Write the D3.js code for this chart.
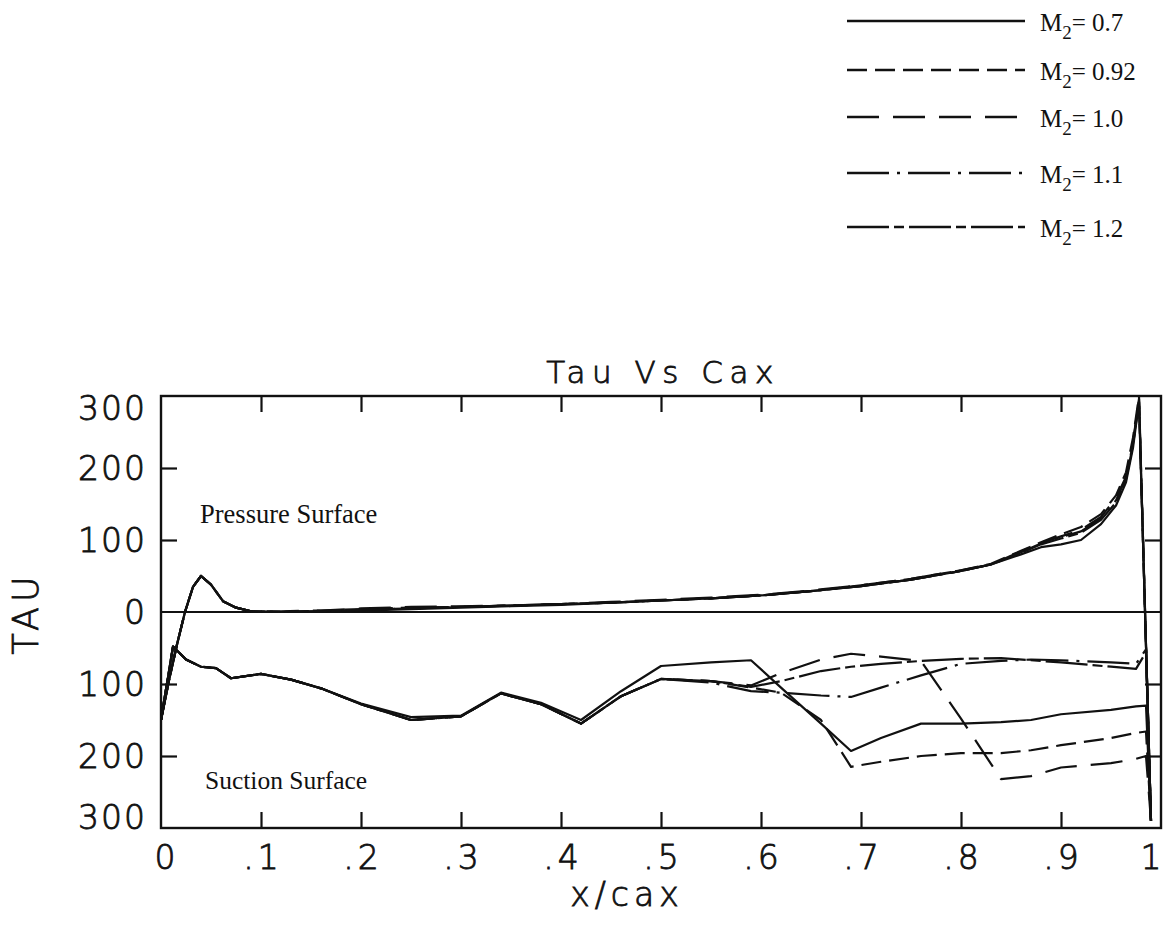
<!DOCTYPE html>
<html><head><meta charset="utf-8">
<script src="https://cdn.jsdelivr.net/npm/d3@7"></script>
<style>body{margin:0;background:#fff}svg{display:block}</style>
</head><body>
<svg id="chart" width="1169" height="926"></svg>
<script>
// ---------- data ----------
const machLabels = ["0.7", "0.92", "1.0", "1.1", "1.2"];
const xTicks = [0, 0.1, 0.2, 0.3, 0.4, 0.5, 0.6, 0.7, 0.8, 0.9, 1];
const xTickLabels = ["0", ".1", ".2", ".3", ".4", ".5", ".6", ".7", ".8", ".9", "1"];
const yTicks = [-300, -200, -100, 0, 100, 200, 300];
const yTickLabels = ["300", "200", "100", "0", "100", "200", "300"];

// pressure surface
const xPressure = [0, 0.008, 0.016, 0.024, 0.032, 0.04, 0.05, 0.062, 0.075, 0.09, 0.12, 0.16, 0.2, 0.25, 0.3, 0.35, 0.4, 0.45, 0.5, 0.55, 0.6, 0.65, 0.7, 0.75, 0.8, 0.83, 0.86, 0.88, 0.9, 0.92, 0.94, 0.955, 0.965, 0.972, 0.978, 0.99];
const p07  = [-150, -95, -45, 0, 35, 50, 38, 15, 6, 1, 0, 1, 2, 4, 6, 8, 10, 13, 16, 19, 23, 29, 36, 45, 57, 66, 80, 90, 94, 100, 122, 148, 180, 228, 292, -290];
const p092 = [-150, -95, -45, 0, 35, 50, 38, 15, 6, 1, 0, 2, 4, 6, 7, 9, 11, 13, 16, 19, 23, 29, 37, 46, 58, 67, 85, 97, 108, 118, 136, 162, 194, 242, 300, -290];
const p10  = [-150, -95, -45, 0, 35, 50, 38, 15, 6, 1, 1, 2, 5, 7, 8, 9, 11, 14, 17, 20, 24, 30, 37, 46, 58, 66, 84, 96, 105, 114, 132, 158, 188, 236, 296, -290];
const p11  = [-150, -95, -45, 0, 35, 50, 38, 15, 6, 1, 0, 1, 3, 5, 7, 9, 11, 13, 16, 19, 23, 29, 36, 45, 57, 66, 83, 95, 104, 112, 130, 155, 186, 234, 294, -290];
const p12  = [-150, -95, -45, 0, 35, 50, 38, 15, 6, 1, 0, 1, 3, 5, 7, 9, 11, 13, 16, 19, 23, 29, 36, 45, 57, 66, 82, 94, 102, 110, 128, 152, 184, 232, 292, -290];

// suction surface
const xSuction = [0, 0.012, 0.025, 0.04, 0.055, 0.07, 0.1, 0.13, 0.16, 0.2, 0.25, 0.3, 0.34, 0.38, 0.42, 0.46, 0.5, 0.55, 0.59, 0.62, 0.66, 0.69, 0.72, 0.76, 0.8, 0.84, 0.87, 0.9, 0.95, 0.975, 0.985, 0.99];
const s07  = [-150, -48, -66, -76, -78, -92, -86, -94, -106, -127, -146, -144, -112, -126, -150, -110, -75, -70, -67, -105, -155, -193, -175, -155, -155, -153, -150, -142, -136, -131, -130, -290];
const s092 = [-150, -48, -66, -76, -78, -92, -86, -94, -106, -128, -150, -145, -113, -128, -155, -117, -93, -96, -105, -112, -150, -215, -208, -200, -196, -196, -192, -185, -175, -168, -166, -290];
const s10  = [-150, -48, -66, -76, -78, -92, -86, -94, -106, -128, -150, -145, -113, -128, -155, -117, -93, -96, -102, -85, -66, -58, -62, -68, -148, -232, -228, -216, -210, -204, -200, -290];
const s11  = [-150, -48, -66, -76, -78, -92, -86, -94, -106, -128, -150, -145, -113, -128, -155, -117, -93, -98, -110, -112, -116, -118, -105, -88, -72, -68, -66, -67, -70, -72, -52, -290];
const s12  = [-150, -48, -66, -76, -78, -92, -86, -94, -106, -128, -150, -145, -113, -128, -155, -117, -93, -96, -104, -96, -82, -76, -72, -68, -65, -64, -67, -70, -76, -79, -56, -290];

const pressureSeries = [p07, p092, p10, p11, p12];
const suctionSeries = [s07, s092, s10, s11, s12];
const dashes = [null, "20,8", "32,14", "42,8,3,8", "42,5,10,5"];

// ---------- drawing ----------
const svg = d3.select("#chart");
const X0 = 161, X1 = 1161, Y0 = 396, Y1 = 828;
const x = d3.scaleLinear().domain([0, 1]).range([X0, X1]);
const y = d3.scaleLinear().domain([-300, 300]).range([Y1, Y0]);
const plotFont = "'DejaVu Sans', sans-serif";
const ink = "#111";

function plotText(sel, size, spacing) {
  sel.attr("font-family", plotFont).attr("font-weight", 200).attr("font-size", size)
    .attr("letter-spacing", spacing).attr("fill", ink)
    .attr("stroke", ink).attr("stroke-width", 0.8);
}

// frame
svg.append("rect").attr("x", X0).attr("y", Y0).attr("width", X1 - X0).attr("height", Y1 - Y0)
  .attr("fill", "none").attr("stroke", ink).attr("stroke-width", 2.4);

// ticks via axes
const tickLen = 16;
function styleAxis(g) {
  g.select(".domain").remove();
  g.selectAll("line").attr("stroke", ink).attr("stroke-width", 2.2);
  g.selectAll("text").remove();
}
const innerX = xTicks.slice(1, -1);
const innerY = yTicks.slice(1, -1).filter(v => v !== 0);
svg.append("g").attr("transform", `translate(0,${Y1})`)
  .call(d3.axisBottom(x).tickValues(innerX).tickSize(-tickLen).tickSizeOuter(0)).call(styleAxis);
svg.append("g").attr("transform", `translate(0,${Y0})`)
  .call(d3.axisTop(x).tickValues(innerX).tickSize(-tickLen).tickSizeOuter(0)).call(styleAxis);
svg.append("g").attr("transform", `translate(${X0},0)`)
  .call(d3.axisLeft(y).tickValues(innerY).tickSize(-tickLen).tickSizeOuter(0)).call(styleAxis);
svg.append("g").attr("transform", `translate(${X1},0)`)
  .call(d3.axisRight(y).tickValues(innerY).tickSize(-tickLen).tickSizeOuter(0)).call(styleAxis);

// zero line
svg.append("line").attr("x1", X0).attr("x2", X1).attr("y1", y(0)).attr("y2", y(0))
  .attr("stroke", ink).attr("stroke-width", 2);

// tick labels
svg.append("g").selectAll("text").data(xTicks).join("text")
  .attr("x", (d, i) => x(d) + (i === 0 ? 6 : i === xTicks.length - 1 ? -8 : 2))
  .attr("y", 869)
  .attr("text-anchor", "middle")
  .call(plotText, 33, 4)
  .text((d, i) => xTickLabels[i]);

svg.append("g").selectAll("text").data(yTicks).join("text")
  .attr("x", 147)
  .attr("y", (d, i) => y(d) + 12 + (i === yTicks.length - 1 ? 12 : i === 0 ? -11 : 0))
  .attr("text-anchor", "end")
  .call(plotText, 33, 2)
  .text((d, i) => yTickLabels[i]);

// titles
svg.append("text").attr("x", 663).attr("y", 383).attr("text-anchor", "middle")
  .call(plotText, 31, 6.5).text("Tau Vs Cax");
svg.append("text").attr("x", 627).attr("y", 906).attr("text-anchor", "middle")
  .call(plotText, 33, 5).text("x/cax");
svg.append("text").attr("transform", "translate(38,613) rotate(-90)").attr("text-anchor", "middle")
  .call(plotText, 35, 5).text("TAU");

// annotations
const serif = "'Liberation Serif', 'Times New Roman', serif";
svg.append("text").attr("x", 200).attr("y", 523).attr("font-family", serif).attr("font-size", 26.5)
  .attr("fill", ink).text("Pressure Surface");
svg.append("text").attr("x", 205).attr("y", 789).attr("font-family", serif).attr("font-size", 25.5)
  .attr("fill", ink).text("Suction Surface");

// curves
const line = d3.line().x(d => x(d[0])).y(d => y(d[1]));
const plot = svg.append("g");
machLabels.forEach((m, k) => {
  const pts1 = xPressure.map((xv, i) => [xv, pressureSeries[k][i]]);
  const pts2 = xSuction.map((xv, i) => [xv, suctionSeries[k][i]]);
  [pts1, pts2].forEach(pts => {
    plot.append("path").attr("d", line(pts)).attr("fill", "none")
      .attr("stroke", ink).attr("stroke-width", 2.2)
      .attr("stroke-linejoin", "round")
      .attr("stroke-dasharray", dashes[k]);
  });
});

// legend
const legendY = [21, 70, 117, 173, 227];
const lg = svg.append("g");
machLabels.forEach((m, k) => {
  lg.append("line").attr("x1", 847).attr("x2", 1025).attr("y1", legendY[k]).attr("y2", legendY[k])
    .attr("stroke", ink).attr("stroke-width", 2.4).attr("stroke-dasharray", dashes[k]);
  const t = lg.append("text").attr("x", 1040).attr("y", legendY[k] + 10)
    .attr("font-family", serif).attr("font-size", 25).attr("fill", ink);
  t.append("tspan").text("M");
  t.append("tspan").attr("font-size", 19).attr("dy", 8).text("2");
  t.append("tspan").attr("dy", -8).text("= " + m);
});
</script>
</body></html>
